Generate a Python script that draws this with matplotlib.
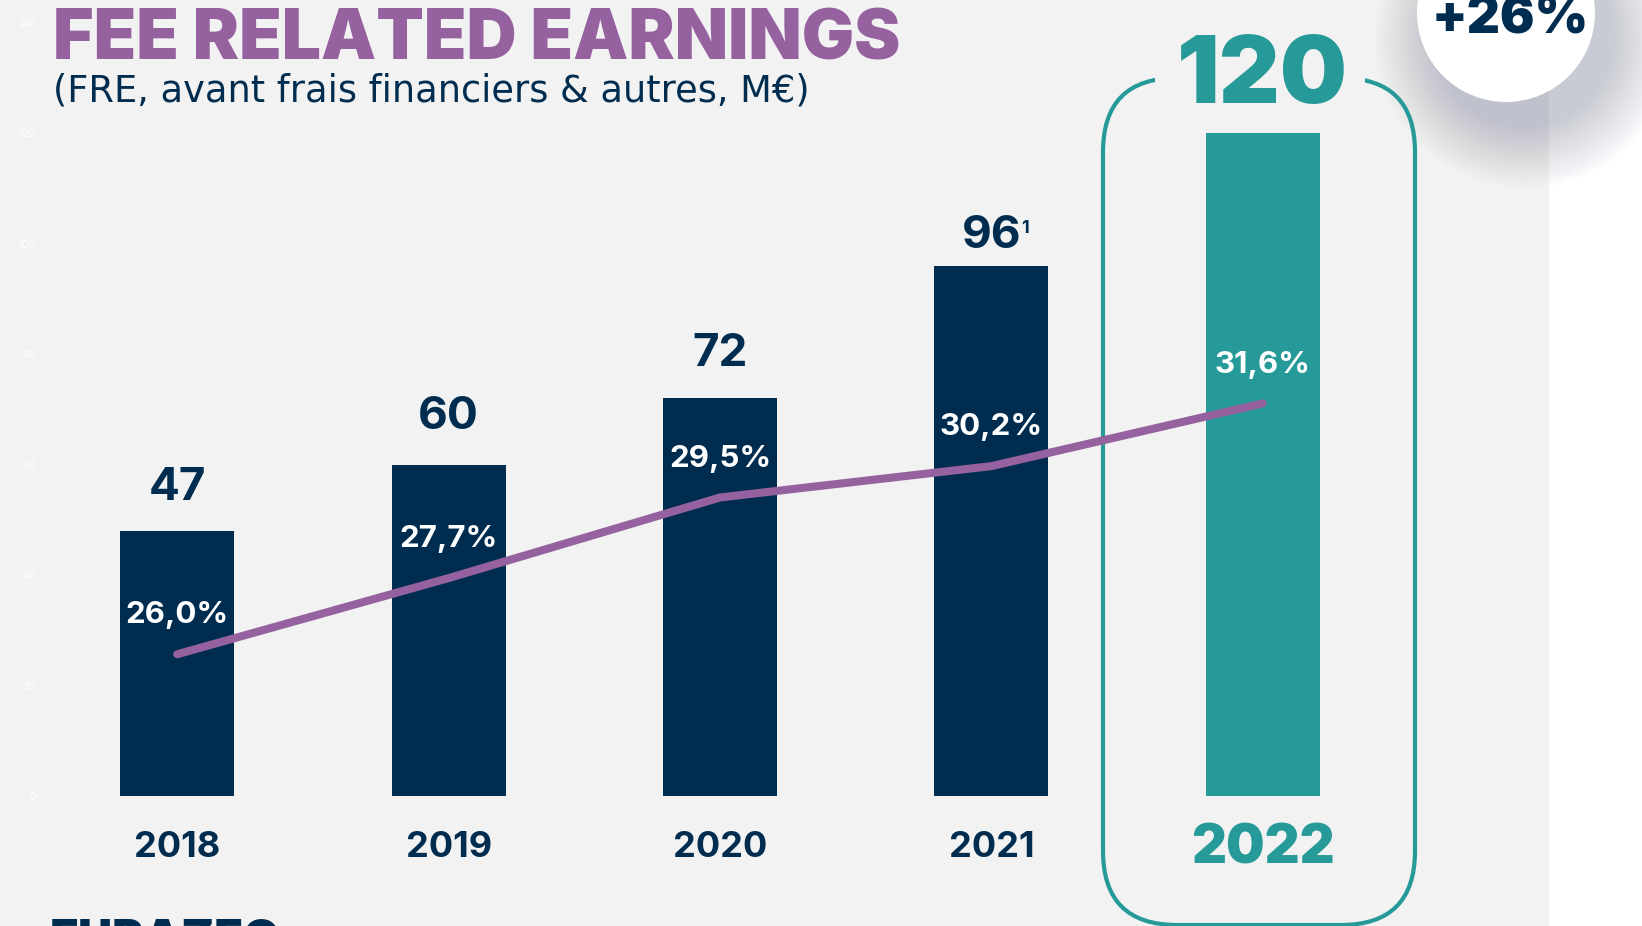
import matplotlib
matplotlib.use("Agg")
import matplotlib.pyplot as plt
import numpy as np
from matplotlib.patches import Rectangle, Circle, FancyBboxPatch
from matplotlib.transforms import blended_transform_factory

# donnees (M€ et marge FRE)
years = ['2018', '2019', '2020', '2021', '2022']
fre = [48, 60, 72, 96, 120]
fre_labels = ['47', '60', '72', '96', '120']
margin = [26.0, 27.7, 29.5, 30.2, 31.6]
margin_labels = ['26,0%', '27,7%', '29,5%', '30,2%', '31,6%']
y_ticks = [0, 20, 40, 60, 80, 100, 120, 140]
growth_label = '+26%'

navy = '#002d4f'
teal = '#269a98'
purple = '#95619e'
grey = '#f2f2f2'
plt.rcParams['font.family'] = ['Inter', 'DejaVu Sans']

W, H = 1642, 926
fig = plt.figure(figsize=(W / 100, H / 100), dpi=100)
fig.patch.set_facecolor('white')

# fond, cercle, cadre 2022 (en pixels)
bg = fig.add_axes([0, 0, 1, 1], zorder=0)
bg.set_xlim(0, W)
bg.set_ylim(H, 0)
bg.axis('off')
bg.add_patch(Rectangle((0, 0), 1549, H, color=grey, lw=0))
for r in np.linspace(150, 89, 25):
    bg.add_patch(Circle((1524, 38), r, color='#8a90a8', alpha=0.02, lw=0))
bg.add_patch(Circle((1506, 13), 89, color='white', lw=0))
bg.add_patch(FancyBboxPatch((1103, 78), 312, 847, boxstyle='round,pad=0,rounding_size=74',
                            fill=False, ec=teal, lw=3))
bg.add_patch(Rectangle((1155, 60), 210, 40, color=grey, lw=0))

ax = fig.add_axes([41.5 / W, 130 / H, 1357 / W, 773.5 / H], zorder=1)
ax.set_facecolor('none')
x = np.arange(len(years))
ax.bar(x, fre, width=0.42, color=[navy] * 4 + [teal])
ax.set_xlim(-0.5, 4.5)
ax.set_ylim(0, 140)
ax.set_yticks(y_ticks)
ax.set_xticks([])
ax.tick_params(axis='y', length=0, pad=4, labelcolor='white', labelsize=7.5)
for s in ax.spines.values():
    s.set_visible(False)

# etiquettes valeurs
gap_px = [31, 36, 32, 18, 30]
for i, (v, lbl) in enumerate(zip(fre, fre_labels)):
    if i == 4:
        ax.annotate(lbl, (i, v), xytext=(0, gap_px[i] * 0.72), textcoords='offset points',
                    ha='center', va='baseline', fontsize=68, fontweight='black', color=teal)
    else:
        ax.annotate(lbl, (i, v), xytext=(0, gap_px[i] * 0.72), textcoords='offset points',
                    ha='center', va='baseline', fontsize=33, fontweight='bold', color=navy)
ax.annotate('1', (3, fre[3]), xytext=(21.5, 32.5), textcoords='offset points',
            ha='left', va='top', fontsize=13, fontweight='bold', color=navy)

# annees
tr = blended_transform_factory(ax.transData, fig.transFigure)
for i, yr in enumerate(years):
    if i == 4:
        ax.text(i, 1 - 864 / H, yr, transform=tr, ha='center', va='baseline',
                fontsize=39, fontweight='black', color=teal)
    else:
        ax.text(i, 1 - 857 / H, yr, transform=tr, ha='center', va='baseline',
                fontsize=26, fontweight='bold', color=navy)

# marge
ax2 = ax.twinx()
ax2.plot(x, margin, color=purple, lw=5.8, solid_capstyle='round')
ax2.set_ylim(22.836, 40.103)
ax2.axis('off')
for i, (p, lbl) in enumerate(zip(margin, margin_labels)):
    ax2.annotate(lbl, (i, p), xytext=(0, 28), textcoords='offset points',
                 ha='center', va='center', fontsize=22.5, fontweight='bold', color='white')

# titres
fig.text(53 / W, 1 - 60 / H, 'FEE RELATED EARNINGS', fontsize=50, fontweight='black',
         color=purple, va='baseline')
fig.text(53 / W, 1 - 102 / H, '(FRE, avant frais financiers & autres, M€)', fontsize=26.5,
         color=navy, va='baseline', family=['DejaVu Sans'])
fig.text(1510 / W, 1 - 33 / H, growth_label, fontsize=37, fontweight='black', color=navy,
         ha='center', va='baseline')
fig.text(50 / W, 1 - 919 / H, 'EURAZEO', fontsize=34, fontweight='black', color=navy,
         ha='left', va='top')

fig.savefig('out.png', dpi=100)
